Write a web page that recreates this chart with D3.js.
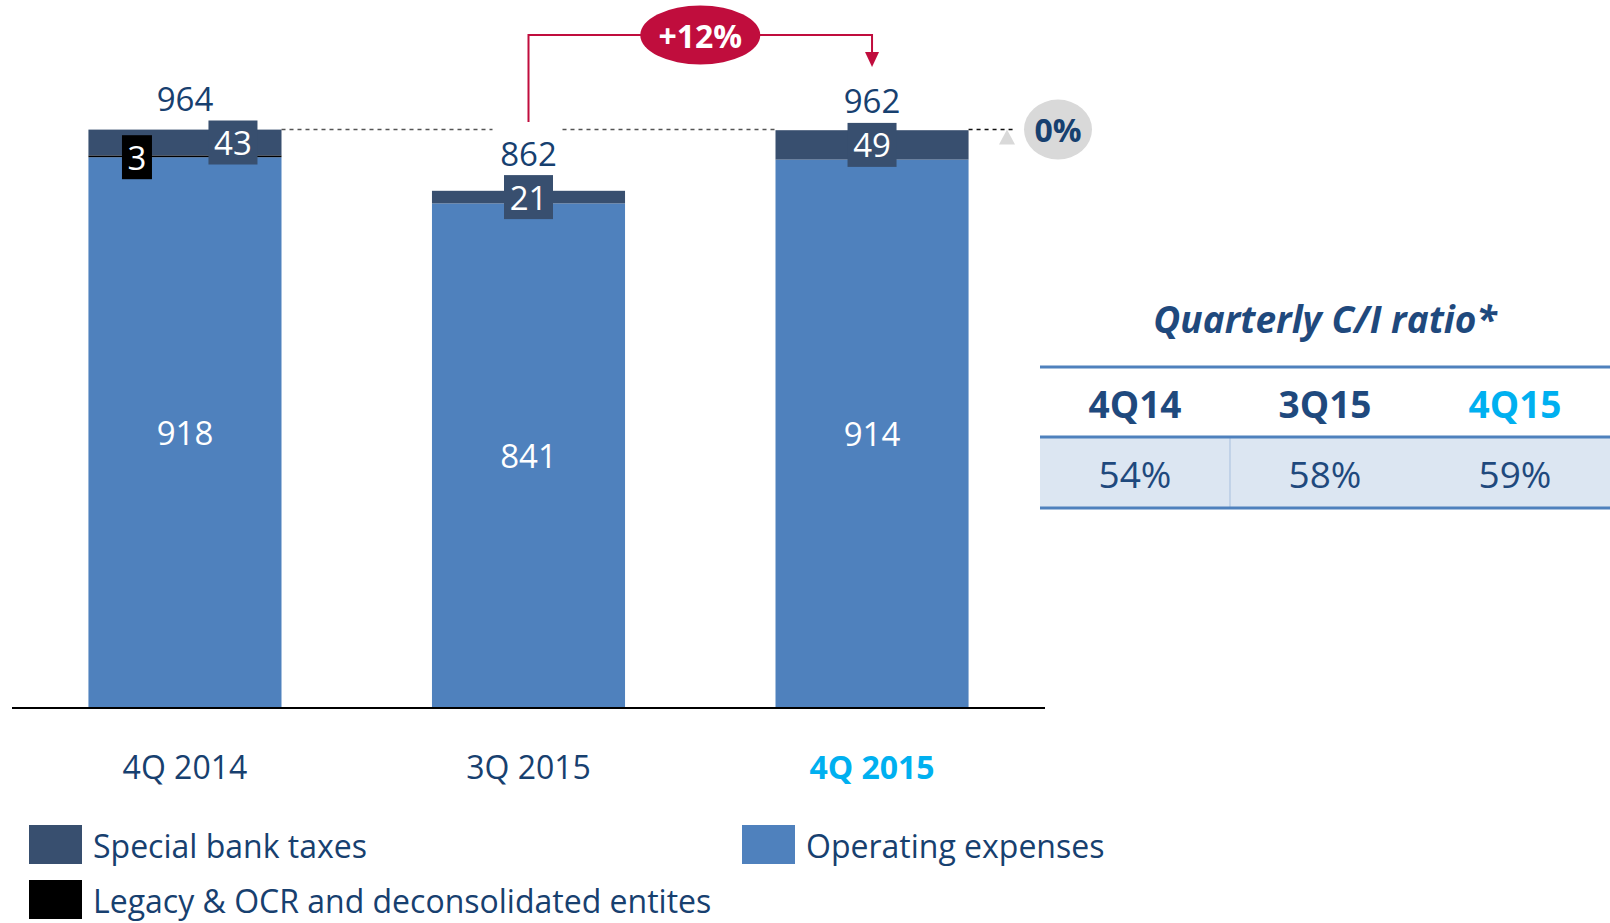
<!DOCTYPE html>
<html>
<head>
<meta charset="utf-8">
<script src="https://cdn.jsdelivr.net/npm/d3@7"></script>
<style>
  html, body { margin: 0; padding: 0; background: #fff; }
  svg { display: block; font-family: "Open Sans", Lato, sans-serif; }
</style>
</head>
<body>
<div id="chart"></div>
<script>
const width = 1610;
const height = 923;

// chart values
const quarters = ['4Q 2014', '3Q 2015', '4Q 2015'];
const opex = [918, 841, 914];
const legacy = [3, 0, 0];
const taxes = [43, 21, 49];
const totals = [964, 862, 962];
const growthLabel = '+12%';
const flatLabel = '0%';

// C/I ratio table
const ratioTitle = 'Quarterly C/I ratio*';
const ratioQuarters = ['4Q14', '3Q15', '4Q15'];
const ratioValues = ['54%', '58%', '59%'];

const legendItems = [
  { key: 'taxes', label: 'Special bank taxes' },
  { key: 'legacy', label: 'Legacy & OCR and deconsolidated entites' },
  { key: 'opex', label: 'Operating expenses' }
];

const colors = {
  opex: '#4F81BD',
  legacy: '#000000',
  taxes: '#384F6F'
};
const navy = '#17406F';
const cyan = '#00B0F0';
const red = '#C00D3D';

const rows = quarters.map((q, i) => ({
  quarter: q, opex: opex[i], legacy: legacy[i], taxes: taxes[i], total: totals[i]
}));

const svg = d3.select('#chart').append('svg')
  .attr('width', width)
  .attr('height', height);

const x = d3.scaleBand()
  .domain(quarters)
  .range([12, 1045])
  .paddingInner(0.438)
  .paddingOuter(0.2225);

const y = d3.scaleLinear()
  .domain([0, 1000])
  .range([708, 108]);

const stack = d3.stack().keys(['opex', 'legacy', 'taxes']);
const series = stack(rows);

// bars
svg.append('g').selectAll('g').data(series)
  .enter().append('g')
  .attr('fill', s => colors[s.key])
  .selectAll('rect').data(s => s.filter(d => d[1] > d[0]))
  .enter().append('rect')
  .attr('x', d => x(d.data.quarter))
  .attr('width', x.bandwidth())
  .attr('y', d => y(d[1]))
  .attr('height', d => y(d[0]) - y(d[1]));

// baseline
svg.append('line')
  .attr('x1', 12).attr('x2', 1045)
  .attr('y1', y(0)).attr('y2', y(0))
  .attr('stroke', '#000').attr('stroke-width', 2);

const cx = q => x(q) + x.bandwidth() / 2;

// operating expense labels
svg.append('g').selectAll('text').data(rows)
  .enter().append('text')
  .attr('x', d => cx(d.quarter))
  .attr('y', d => (y(0) + y(d.opex)) / 2)
  .attr('text-anchor', 'middle')
  .attr('dominant-baseline', 'central')
  .attr('fill', '#fff')
  .attr('font-size', 33)
  .text(d => d.opex);

// tax label boxes (shifted right when the legacy box is shown)
const boxH = 44;
const taxBox = rows.map(d => {
  const top = y(d.opex + d.legacy + d.taxes);
  const bot = y(d.opex + d.legacy);
  return {
    d: d,
    cx: cx(d.quarter) + (d.legacy > 0 ? 48 : 0),
    cy: (top + bot) / 2
  };
});

const tb = svg.append('g').selectAll('g').data(taxBox).enter().append('g');
tb.append('rect')
  .attr('x', b => b.cx - 24.5)
  .attr('y', b => b.cy - boxH / 2)
  .attr('width', 49)
  .attr('height', boxH)
  .attr('fill', colors.taxes);
tb.append('text')
  .attr('x', b => b.cx)
  .attr('y', b => b.cy)
  .attr('text-anchor', 'middle')
  .attr('dominant-baseline', 'central')
  .attr('fill', '#fff')
  .attr('font-size', 33)
  .text(b => b.d.taxes);

// legacy label box
const lb = svg.append('g').selectAll('g').data(rows.filter(d => d.legacy > 0)).enter().append('g');
lb.append('rect')
  .attr('x', d => cx(d.quarter) - 48 - 15)
  .attr('y', d => y(d.opex) - boxH / 2)
  .attr('width', 30)
  .attr('height', boxH)
  .attr('fill', '#000');
lb.append('text')
  .attr('x', d => cx(d.quarter) - 48)
  .attr('y', d => y(d.opex))
  .attr('text-anchor', 'middle')
  .attr('dominant-baseline', 'central')
  .attr('fill', '#fff')
  .attr('font-size', 33)
  .text(d => d.legacy);

// totals
svg.append('g').selectAll('text').data(taxBox)
  .enter().append('text')
  .attr('x', b => cx(b.d.quarter))
  .attr('y', b => b.cy - boxH / 2 - 22)
  .attr('text-anchor', 'middle')
  .attr('dominant-baseline', 'central')
  .attr('fill', navy)
  .attr('font-size', 33)
  .text(b => b.d.total);

// dashed reference line at the 4Q 2014 level
const refY = y(totals[0]);
const dash = svg.append('g')
  .attr('stroke-dasharray', '4,4')
  .attr('stroke-width', 1.5);
dash.append('line')
  .attr('x1', x(quarters[0]) + x.bandwidth()).attr('x2', cx(quarters[1]) - 36)
  .attr('y1', refY).attr('y2', refY).attr('stroke', '#555');
dash.append('line')
  .attr('x1', cx(quarters[1]) + 34).attr('x2', x(quarters[2]))
  .attr('y1', refY).attr('y2', refY).attr('stroke', '#555');
dash.append('line')
  .attr('x1', x(quarters[2]) + x.bandwidth()).attr('x2', 1015)
  .attr('y1', refY).attr('y2', refY).attr('stroke', '#111');

// grey triangle and 0% badge
svg.append('path')
  .attr('d', d3.line()([[999, refY + 15], [1015, refY + 15], [1007, refY]]) + 'Z')
  .attr('fill', '#D9D9D9');
svg.append('ellipse')
  .attr('cx', 1058).attr('cy', refY)
  .attr('rx', 34).attr('ry', 30)
  .attr('fill', '#D9D9D9');
svg.append('text')
  .attr('x', 1058).attr('y', refY)
  .attr('text-anchor', 'middle')
  .attr('dominant-baseline', 'central')
  .attr('fill', navy)
  .attr('font-size', 32)
  .attr('font-weight', 'bold')
  .text(flatLabel);

// growth bracket 3Q 2015 -> 4Q 2015
const bx1 = cx(quarters[1]);
const bx2 = cx(quarters[2]);
const bTop = 35;
svg.append('path')
  .attr('d', d3.line()([[bx1, 122], [bx1, bTop], [bx2, bTop], [bx2, 54]]))
  .attr('fill', 'none')
  .attr('stroke', red)
  .attr('stroke-width', 2);
svg.append('path')
  .attr('d', d3.line()([[bx2 - 7, 52], [bx2 + 7, 52], [bx2, 67]]) + 'Z')
  .attr('fill', red);
const bm = (bx1 + bx2) / 2;
svg.append('ellipse')
  .attr('cx', bm).attr('cy', bTop)
  .attr('rx', 60).attr('ry', 29.5)
  .attr('fill', red);
svg.append('text')
  .attr('x', bm).attr('y', bTop)
  .attr('text-anchor', 'middle')
  .attr('dominant-baseline', 'central')
  .attr('fill', '#fff')
  .attr('font-size', 32)
  .attr('font-weight', 'bold')
  .text(growthLabel);

// category labels
svg.append('g').selectAll('text').data(quarters)
  .enter().append('text')
  .attr('x', q => cx(q))
  .attr('y', 766)
  .attr('text-anchor', 'middle')
  .attr('dominant-baseline', 'central')
  .attr('font-size', 32)
  .attr('font-weight', (q, i) => i === quarters.length - 1 ? 'bold' : 'normal')
  .attr('fill', (q, i) => i === quarters.length - 1 ? cyan : navy)
  .text(q => q);

// legend
const legendPos = {
  taxes: [29, 825],
  legacy: [29, 880],
  opex: [742, 825]
};
const lg = svg.append('g').selectAll('g').data(legendItems)
  .enter().append('g')
  .attr('transform', d => `translate(${legendPos[d.key][0]},${legendPos[d.key][1]})`);
lg.append('rect')
  .attr('width', 53).attr('height', 39)
  .attr('fill', d => colors[d.key]);
lg.append('text')
  .attr('x', 64).attr('y', 20)
  .attr('dominant-baseline', 'central')
  .attr('font-size', 32)
  .attr('fill', navy)
  .text(d => d.label);

// C/I ratio table
const tx = d3.scaleBand()
  .domain(ratioQuarters)
  .range([1040, 1610]);
const tableColor = '#1F497D';

svg.append('text')
  .attr('x', 1325).attr('y', 318)
  .attr('text-anchor', 'middle')
  .attr('dominant-baseline', 'central')
  .attr('font-size', 37)
  .attr('font-weight', 'bold')
  .attr('font-style', 'italic')
  .attr('fill', tableColor)
  .text(ratioTitle);

svg.append('rect')
  .attr('x', 1040).attr('y', 437)
  .attr('width', 570).attr('height', 71)
  .attr('fill', '#DCE6F2');
svg.append('line')
  .attr('x1', tx(ratioQuarters[1])).attr('x2', tx(ratioQuarters[1]))
  .attr('y1', 437).attr('y2', 508)
  .attr('stroke', '#A7BFDE').attr('stroke-width', 1);

svg.append('g').selectAll('line').data([367, 437, 508])
  .enter().append('line')
  .attr('x1', 1040).attr('x2', 1610)
  .attr('y1', d => d).attr('y2', d => d)
  .attr('stroke', '#4F81BD')
  .attr('stroke-width', 3);

svg.append('g').selectAll('text').data(ratioQuarters)
  .enter().append('text')
  .attr('x', q => tx(q) + tx.bandwidth() / 2)
  .attr('y', 403)
  .attr('text-anchor', 'middle')
  .attr('dominant-baseline', 'central')
  .attr('font-size', 37)
  .attr('font-weight', 'bold')
  .attr('fill', (q, i) => i === ratioQuarters.length - 1 ? cyan : tableColor)
  .text(q => q);

svg.append('g').selectAll('text').data(ratioValues)
  .enter().append('text')
  .attr('x', (v, i) => tx(ratioQuarters[i]) + tx.bandwidth() / 2)
  .attr('y', 473)
  .attr('text-anchor', 'middle')
  .attr('dominant-baseline', 'central')
  .attr('font-size', 37)
  .attr('fill', tableColor)
  .text(v => v);
</script>
</body>
</html>
